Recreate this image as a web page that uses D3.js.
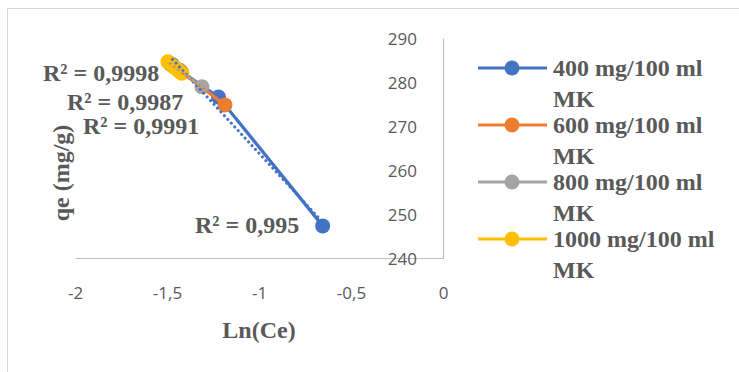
<!DOCTYPE html>
<html><head><meta charset="utf-8">
<script src="https://cdn.jsdelivr.net/npm/d3@7"></script>
<style>
html,body{margin:0;padding:0;background:#fff;}
svg{display:block;}
</style></head>
<body>
<svg id="chart" width="739" height="372"></svg>
<script>
// ---- data ----
const seriesNames = ["400 mg/100 ml MK", "600 mg/100 ml MK", "800 mg/100 ml MK", "1000 mg/100 ml MK"];
const legendLine1 = ["400 mg/100 ml", "600 mg/100 ml", "800 mg/100 ml", "1000 mg/100 ml"];
const legendLine2 = ["MK", "MK", "MK", "MK"];
const x400 = [-1.47, -1.43, -1.22, -0.654];
const y400 = [283.9, 282.6, 276.6, 247.3];
const x600 = [-1.48, -1.44, -1.42, -1.185];
const y600 = [284.0, 282.8, 282.2, 274.8];
const x800 = [-1.49, -1.43, -1.31];
const y800 = [284.4, 282.4, 278.9];
const x1000 = [-1.495, -1.465, -1.44, -1.42];
const y1000 = [284.6, 283.5, 282.7, 282.0];
const r2Labels = ["R² = 0,995", "R² = 0,9991", "R² = 0,9987", "R² = 0,9998"];
const xTicks = [-2, -1.5, -1, -0.5, 0];
const yTicks = [240, 250, 260, 270, 280, 290];
const colors = ["#4472C4", "#ED7D31", "#A5A5A5", "#FFC000"];

const seriesX = [x400, x600, x800, x1000];
const seriesY = [y400, y600, y800, y1000];

// ---- layout ----
const svg = d3.select("#chart");
const x = d3.scaleLinear().domain([-2, 0]).range([75, 443]);
const y = d3.scaleLinear().domain([240, 290]).range([258, 38]);
const textGray = "#595959";
const serif = "'Liberation Serif','Times New Roman',serif";
const sans = "'Open Sans','Noto Sans',sans-serif";

// chart border
svg.append("rect").attr("x", 7.5).attr("y", 8.5).attr("width", 760).attr("height", 400)
  .attr("fill", "none").attr("stroke", "#d9d9d9").attr("stroke-width", 1);

const fmt = d => String(d).replace(".", ",");

// axes
const gx = svg.append("g").attr("transform", `translate(0,${y(240)})`)
  .call(d3.axisBottom(x).tickValues(xTicks).tickSize(0).tickPadding(29).tickFormat(fmt));
const gy = svg.append("g").attr("transform", `translate(${x(0)},0)`)
  .call(d3.axisLeft(y).tickValues(yTicks).tickSize(0).tickPadding(26).tickFormat(fmt));
[gx, gy].forEach(g => {
  g.select(".domain").attr("stroke", "#bfbfbf").attr("stroke-width", 1.2);
  g.selectAll("text").attr("fill", textGray).style("font-family", sans).style("font-size", "17px");
});
gy.selectAll("text").attr("dy", "0.36em");

// series lines + markers
const line = d3.line().x(d => x(d[0])).y(d => y(d[1]));
seriesX.forEach((xs, i) => {
  const pts = xs.map((v, j) => [v, seriesY[i][j]]);
  svg.append("path").datum(pts).attr("d", line).attr("fill", "none")
    .attr("stroke", colors[i]).attr("stroke-width", 3.2).attr("stroke-linejoin", "round");
  svg.append("g").selectAll("circle").data(pts).join("circle")
    .attr("cx", d => x(d[0])).attr("cy", d => y(d[1])).attr("r", 7.5)
    .attr("fill", colors[i]);
});

// linear trendlines (dotted, on top)
seriesX.forEach((xs, i) => {
  const ys = seriesY[i];
  const mx = d3.mean(xs), my = d3.mean(ys);
  const sxy = d3.sum(xs, (v, j) => (v - mx) * (ys[j] - my));
  const sxx = d3.sum(xs, v => (v - mx) * (v - mx));
  const b = sxy / sxx, a = my - b * mx;
  const [x0, x1] = d3.extent(xs);
  svg.append("line")
    .attr("x1", x(x0)).attr("y1", y(a + b * x0))
    .attr("x2", x(x1)).attr("y2", y(a + b * x1))
    .attr("stroke", colors[i]).attr("stroke-width", 3)
    .attr("stroke-dasharray", "0.1,5").attr("stroke-linecap", "round");
});

// R² labels
const r2Pos = [[195, 233], [83, 134], [67, 110], [43, 81]];
r2Labels.forEach((t, i) => {
  svg.append("text").attr("x", r2Pos[i][0]).attr("y", r2Pos[i][1])
    .attr("fill", textGray).style("font-family", serif).style("font-weight", "bold")
    .style("font-size", "24px").text(t);
});

// axis titles
svg.append("text").attr("x", 259).attr("y", 338).attr("text-anchor", "middle")
  .attr("fill", textGray).style("font-family", serif).style("font-weight", "bold")
  .style("font-size", "24px").text("Ln(Ce)");
svg.append("text").attr("transform", "translate(69,173) rotate(-90)").attr("text-anchor", "middle")
  .attr("fill", textGray).style("font-family", serif).style("font-weight", "bold")
  .style("font-size", "24px").text("qe (mg/g)");

// legend
const lg = svg.append("g");
seriesNames.forEach((n, i) => {
  const cy = 68 + i * 57;
  lg.append("line").attr("x1", 478).attr("x2", 547).attr("y1", cy).attr("y2", cy)
    .attr("stroke", colors[i]).attr("stroke-width", 3.2);
  lg.append("circle").attr("cx", 512).attr("cy", cy).attr("r", 7.5).attr("fill", colors[i]);
  lg.append("text").attr("x", 553).attr("y", cy + 8)
    .attr("fill", textGray).style("font-family", serif).style("font-weight", "bold")
    .style("font-size", "24px").text(legendLine1[i]);
  lg.append("text").attr("x", 553).attr("y", cy + 39)
    .attr("fill", textGray).style("font-family", serif).style("font-weight", "bold")
    .style("font-size", "24px").text(legendLine2[i]);
});
</script>
</body></html>
